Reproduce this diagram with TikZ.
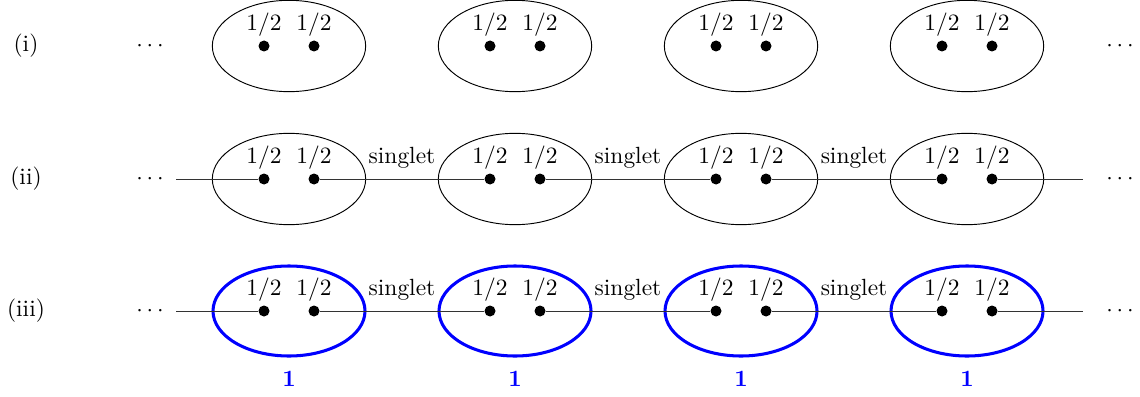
\documentclass[tikz,border=0pt]{standalone}
\usetikzlibrary{shapes.geometric, positioning, calc}
\definecolor{azulspin}{HTML}{0000FF}
\tikzset{
  sitio/.style={ellipse, draw=black, thin, minimum width=2.3cm, minimum height=1.37cm, inner sep=0pt},
  sitioazul/.style={ellipse, draw=azulspin, line width=1.3pt, minimum width=2.28cm, minimum height=1.35cm, inner sep=0pt},
  punto/.style={circle, fill=black, inner sep=0pt, minimum size=0.165cm},
  medio/.style={anchor=base, inner sep=0pt, yshift=0.23cm},
  enlace/.style={thin, color=black!80},
  uno/.style={anchor=base, inner sep=0pt, yshift=-1.13cm, font=\bfseries, text=azulspin}
}
\begin{document}
\begin{tikzpicture}[x=0.015cm, y=-0.015cm]
  \useasboundingbox (0,0) rectangle (1140,396);
  % fila (i): pares libres
  \node (i-nom) at (26,46) {(i)};
  \node (i-izq) at (150,46) {$\cdots$};
  \node (i-der) at (1120,46) {$\cdots$};
  \foreach \k/\x in {1/289, 2/515, 3/741, 4/967} {
    \node (i-s\k) [sitio] at (\x,46) {};
    \node (i-l\k) [punto] at (\x-25,46) {};
    \node (i-r\k) [punto] at (\x+25,46) {};
    \node [medio] at (i-l\k) {$1/2$};
    \node [medio] at (i-r\k) {$1/2$};
  }
  % fila (ii): singletes entre sitios
  \node (ii-nom) at (26,179) {(ii)};
  \node (ii-izq) at (150,179) {$\cdots$};
  \node (ii-der) at (1120,179) {$\cdots$};
  \coordinate (ii-ini) at (176,179);
  \coordinate (ii-fin) at (1083,179);
  \foreach \k/\x in {1/289, 2/515, 3/741, 4/967} {
    \node (ii-s\k) [sitio] at (\x,179) {};
    \node (ii-l\k) [punto] at (\x-25,179) {};
    \node (ii-r\k) [punto] at (\x+25,179) {};
    \node [medio] at (ii-l\k) {$1/2$};
    \node [medio] at (ii-r\k) {$1/2$};
  }
  \draw [enlace] (ii-ini) -- (ii-l1);
  \draw [enlace] (ii-r1) -- (ii-l2);
  \draw [enlace] (ii-r2) -- (ii-l3);
  \draw [enlace] (ii-r3) -- (ii-l4);
  \draw [enlace] (ii-r4) -- (ii-fin);
  \node [medio] at ($(ii-s1)!0.5!(ii-s2)$) {singlet};
  \node [medio] at ($(ii-s2)!0.5!(ii-s3)$) {singlet};
  \node [medio] at ($(ii-s3)!0.5!(ii-s4)$) {singlet};
  % fila (iii): espines 1 (AKLT)
  \node (iii-nom) at (26,311) {(iii)};
  \node (iii-izq) at (150,311) {$\cdots$};
  \node (iii-der) at (1120,311) {$\cdots$};
  \coordinate (iii-ini) at (176,311);
  \coordinate (iii-fin) at (1083,311);
  \foreach \k/\x in {1/289, 2/515, 3/741, 4/967} {
    \node (iii-s\k) [sitioazul] at (\x,311) {};
    \node (iii-l\k) [punto] at (\x-25,311) {};
    \node (iii-r\k) [punto] at (\x+25,311) {};
    \node [medio] at (iii-l\k) {$1/2$};
    \node [medio] at (iii-r\k) {$1/2$};
    \node [uno] at (iii-s\k) {1};
  }
  \draw [enlace] (iii-ini) -- (iii-l1);
  \draw [enlace] (iii-r1) -- (iii-l2);
  \draw [enlace] (iii-r2) -- (iii-l3);
  \draw [enlace] (iii-r3) -- (iii-l4);
  \draw [enlace] (iii-r4) -- (iii-fin);
  \node [medio] at ($(iii-s1)!0.5!(iii-s2)$) {singlet};
  \node [medio] at ($(iii-s2)!0.5!(iii-s3)$) {singlet};
  \node [medio] at ($(iii-s3)!0.5!(iii-s4)$) {singlet};
\end{tikzpicture}
\end{document}
